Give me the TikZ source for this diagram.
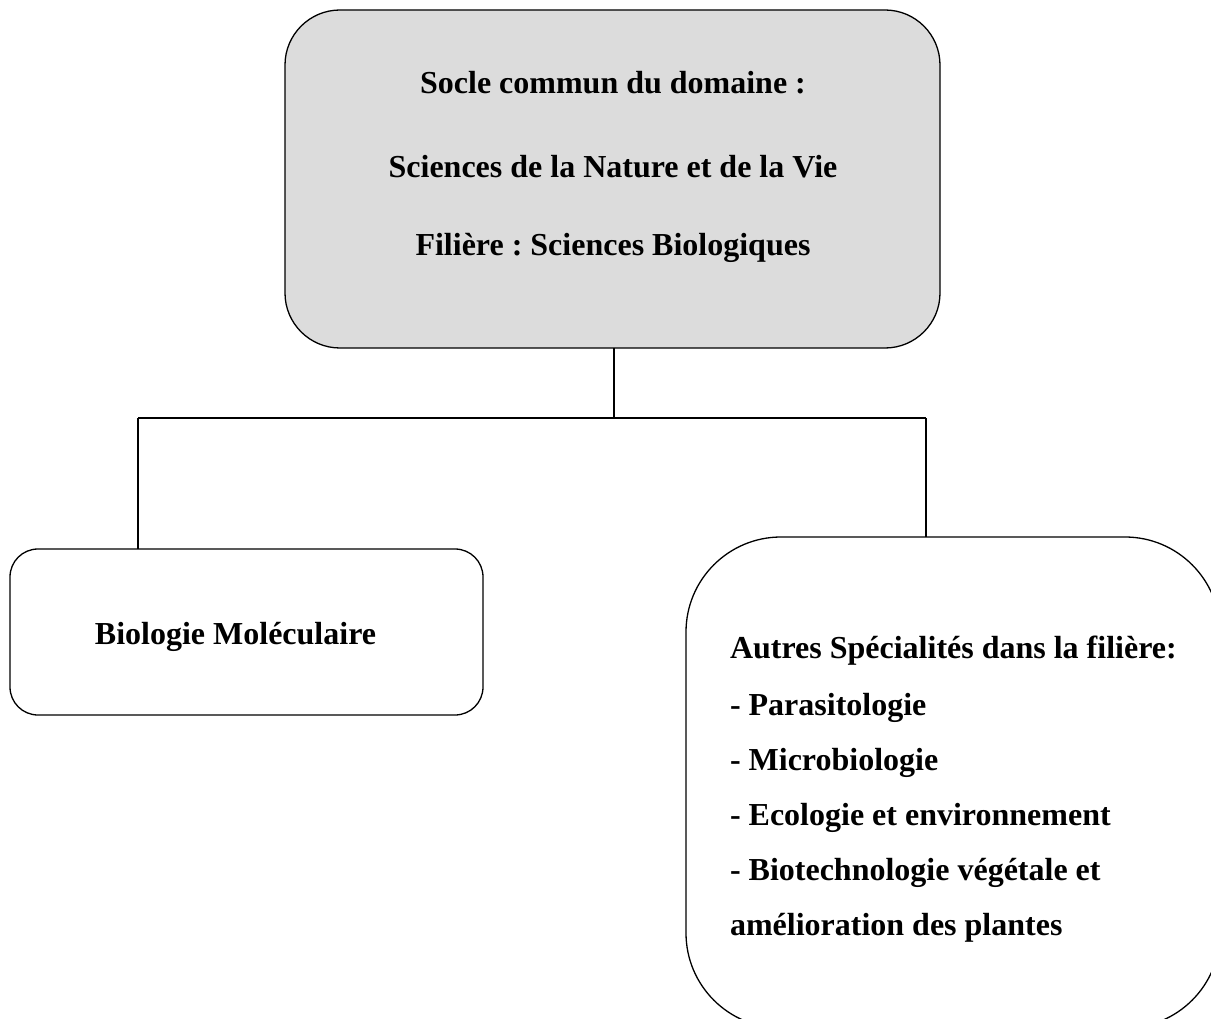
\documentclass[tikz,border=0pt]{standalone}
\usepackage{fontspec}
\setmainfont{Liberation Serif}
\frenchspacing
\definecolor{boxgray}{RGB}{220,220,220}
\begin{document}
\begin{tikzpicture}[x=1pt,y=-1pt,
  every node/.style={inner sep=0pt,outer sep=0pt},
  boxbase/.style={draw=black,line width=1.3pt,rectangle},
  txt/.style={font=\fontsize{32}{40}\selectfont\bfseries},
  conn/.style={draw=black,line width=1.3pt}]
\useasboundingbox (0,0) rectangle (1211,1019);
\begin{scope}
\clip (0,0) rectangle (1211,1019);
% boxes
\node[boxbase,fill=boxgray,rounded corners=55pt,minimum width=655pt,minimum height=338pt] (top) at (612.5,179) {};
\node[boxbase,rounded corners=28pt,minimum width=473pt,minimum height=166pt] (left) at (246.5,632) {};
\node[boxbase,rounded corners=95pt,minimum width=534pt,minimum height=491pt] (right) at (953,782.5) {};
% texts
\node[txt] (t1) at (613,83) {Socle commun du domaine :};
\node[txt] (t2) at (613,167) {Sciences de la Nature et de la Vie};
\node[txt] (t3) at (613,248) {Filière : Sciences Biologiques};
\node[txt] (l1) at (235.5,637) {Biologie Moléculaire};
\node[txt,anchor=west] (r1) at (730,651) {Autres Spécialités dans la filière:};
\node[txt,anchor=west] (r2) at (730,708) {- Parasitologie};
\node[txt,anchor=west] (r3) at (730,763) {- Microbiologie};
\node[txt,anchor=west] (r4) at (730,818) {- Ecologie et environnement};
\node[txt,anchor=west] (r5) at (730,873) {- Biotechnologie végétale et};
\node[txt,anchor=west] (r6) at (730,928) {amélioration des plantes};
% connectors
\coordinate (j) at (614,418);
\coordinate (cl) at (138,418);
\coordinate (cr) at (926,418);
\draw[conn] (top.south -| j) -- (j);
\draw[conn] (cl) -- (cr);
\draw[conn] (cl) -- (cl |- left.north);
\draw[conn] (cr) -- (cr |- right.north);
\end{scope}
\end{tikzpicture}
\end{document}
